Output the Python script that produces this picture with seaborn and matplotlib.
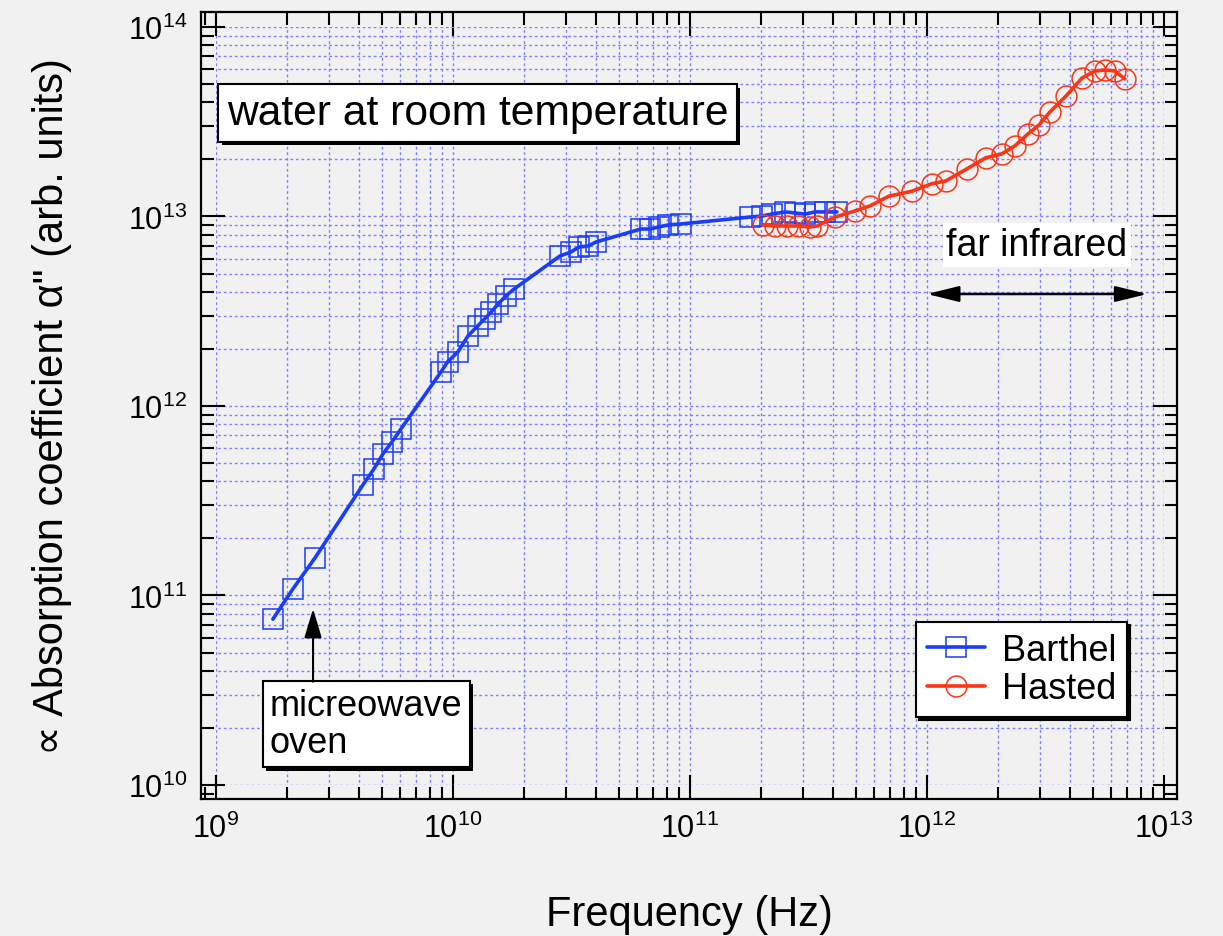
import matplotlib
matplotlib.use('Agg')
import matplotlib.pyplot as plt
import matplotlib.patheffects as pe
from matplotlib.patches import Rectangle
from matplotlib.ticker import LogLocator, NullFormatter
import seaborn as sns
import numpy as np

# Datos (frecuencia en Hz, absorcion en unidades arbitrarias)
barthel_freq = [1.74e9, 2.11e9, 2.62e9, 4.17e9, 4.64e9, 5.07e9, 5.53e9, 6.04e9,
                8.9e9, 9.5e9, 1.05e10, 1.157e10, 1.27e10, 1.36e10, 1.45e10, 1.55e10,
                1.67e10, 1.81e10, 2.83e10, 3.15e10, 3.4e10, 3.72e10, 4.01e10,
                6.21e10, 6.78e10, 7.4e10, 8.07e10, 9.16e10,
                1.79e11, 2.01e11, 2.22e11, 2.52e11, 2.77e11, 3.06e11, 3.37e11,
                3.71e11, 4.17e11]
barthel_alpha = [7.5e10, 1.08e11, 1.58e11, 3.83e11, 4.65e11, 5.59e11, 6.46e11, 7.57e11,
                 1.51e12, 1.71e12, 1.93e12, 2.34e12, 2.64e12, 2.88e12, 3.13e12, 3.45e12,
                 3.8e12, 4.14e12, 6.19e12, 6.5e12, 6.9e12, 6.99e12, 7.33e12,
                 8.59e12, 8.59e12, 8.81e12, 9.02e12, 9.13e12,
                 9.93e12, 1.006e13, 1.03e13, 1.057e13, 1.044e13, 1.03e13, 1.057e13,
                 1.057e13, 1.057e13]

hasted_freq = [2.03e11, 2.28e11, 2.57e11, 2.86e11, 3.21e11, 3.44e11, 4.09e11, 4.97e11,
               5.74e11, 6.91e11, 8.65e11, 1.05e12, 1.2e12, 1.47e12, 1.77e12, 2.07e12,
               2.35e12, 2.67e12, 2.97e12, 3.3e12, 3.86e12, 4.51e12, 5.12e12, 5.64e12,
               6.21e12, 6.84e12]
hasted_alpha = [9.02e12, 8.91e12, 8.91e12, 8.91e12, 8.81e12, 8.91e12, 9.93e12, 1.07e13,
                1.136e13, 1.28e13, 1.36e13, 1.49e13, 1.54e13, 1.78e13, 2.04e13, 2.14e13,
                2.36e13, 2.73e13, 3.04e13, 3.56e13, 4.32e13, 5.38e13, 5.86e13, 5.93e13,
                5.86e13, 5.32e13]

azul = '#1a3cff'
rojo = '#ff3414'
fondo = '#f1f1f1'

sns.set_style('ticks')
plt.rcParams['font.family'] = ['Liberation Sans', 'DejaVu Sans']
plt.rcParams['mathtext.fontset'] = 'custom'
plt.rcParams['mathtext.rm'] = 'Liberation Sans'
plt.rcParams['text.color'] = 'black'
plt.rcParams['axes.labelcolor'] = 'black'
plt.rcParams['xtick.color'] = 'black'
plt.rcParams['ytick.color'] = 'black'

fig = plt.figure(figsize=(12.23, 9.37), dpi=100, facecolor=fondo)
ax = fig.add_axes([0.1643, 0.1462, 0.7981, 0.8399])
ax.set_facecolor(fondo)

sns.lineplot(x=barthel_freq, y=barthel_alpha, ax=ax, color=azul, linewidth=2.6,
             marker='s', markersize=15, markerfacecolor='none', markeredgecolor=azul,
             markeredgewidth=1.1, label='Barthel', estimator=None, sort=True, zorder=3)
sns.lineplot(x=hasted_freq, y=hasted_alpha, ax=ax, color=rojo, linewidth=2.6,
             marker='o', markersize=15, markerfacecolor='none', markeredgecolor=rojo,
             markeredgewidth=1.1, label='Hasted', estimator=None, sort=True, zorder=4)

ax.set_xscale('log')
ax.set_yscale('log')
ax.set_xlim(10**8.937, 10**13.055)
ax.set_ylim(10**9.926, 10**14.079)

for eje in (ax.xaxis, ax.yaxis):
    eje.set_major_locator(LogLocator(base=10, numticks=20))
    eje.set_minor_locator(LogLocator(base=10, subs=np.arange(2, 10), numticks=100))
    eje.set_minor_formatter(NullFormatter())

ax.set_axisbelow(True)
ax.grid(True, which='both', color='#8080ff', linestyle=(0, (2, 2)), linewidth=1.0)
ax.tick_params(which='both', direction='in', top=True, right=True, width=1.5,
               color='black', labelsize=22, pad=10)
ax.tick_params(which='major', length=17)
ax.tick_params(which='minor', length=9)
for s in ax.spines.values():
    s.set_linewidth(1.6)
    s.set_color('black')

# la rejilla solo cubre las decadas completas
zona = Rectangle((1e9, 1e10), 1e13 - 1e9, 1e14 - 1e10, transform=ax.transData)
ax.xaxis.set_clip_path(zona)
ax.yaxis.set_clip_path(zona)

ax.set_xlabel('Frequency (Hz)', fontsize=30, labelpad=36)
ax.set_ylabel('\u221d Absorption coefficient \u03b1" (arb. units)', fontsize=30, labelpad=40)

sombra = [pe.SimplePatchShadow(offset=(2.5, -2.5), shadow_rgbFace='black', alpha=1), pe.Normal()]

t1 = ax.text(0.0266, 0.8717, 'water at room temperature', transform=ax.transAxes,
             fontsize=30.7, ha='left', va='center',
             bbox=dict(boxstyle='square,pad=0.2', fc='white', ec='black', lw=1.5))
t1.get_bbox_patch().set_path_effects(sombra)

t2 = ax.text(0.0707, 0.0953, 'micreowave\noven', transform=ax.transAxes,
             fontsize=26, ha='left', va='center', linespacing=1.08,
             bbox=dict(boxstyle='square,pad=0.2', fc='white', ec='black', lw=1.5))
t2.get_bbox_patch().set_path_effects(sombra)

ax.annotate('', xy=(2.57e9, 10**10.93), xytext=(2.57e9, 10**10.545),
            arrowprops=dict(arrowstyle='-|>,head_length=0.6,head_width=0.18',
                            mutation_scale=30, color='black', lw=1.5,
                            shrinkA=0, shrinkB=0), zorder=5)

ax.text(10**12.464, 10**12.85, 'far infrared', fontsize=27, ha='center', va='center',
        bbox=dict(boxstyle='square,pad=0.1', fc='white', ec='none'))
ax.annotate('', xy=(10**12.93, 10**12.591), xytext=(10**12.0, 10**12.591),
            arrowprops=dict(arrowstyle='<|-|>,head_length=0.65,head_width=0.16',
                            mutation_scale=30, color='black', lw=1.8,
                            shrinkA=0, shrinkB=0))

leg = ax.legend(loc='upper left', bbox_to_anchor=(0.7326, 0.225), borderaxespad=0,
                fontsize=26, frameon=True, fancybox=False, framealpha=1,
                edgecolor='black', handlelength=1.6, handletextpad=0.47,
                labelspacing=0.1, borderpad=0.3,
                shadow={'color': 'black', 'alpha': 1})
leg.get_frame().set_linewidth(1.5)

fig.savefig('out.png', dpi=100, facecolor=fondo)
